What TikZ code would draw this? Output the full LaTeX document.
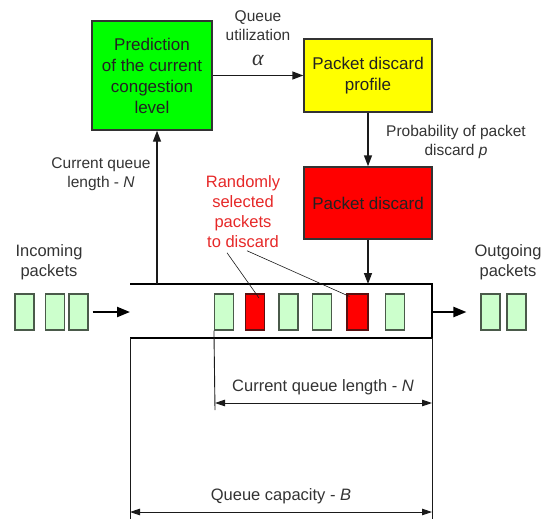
\documentclass[tikz,border=0pt]{standalone}
\usepackage{fontspec}
\setmainfont{Liberation Sans}
\newfontfamily\alphafont{Liberation Serif}
\usetikzlibrary{arrows.meta,calc}
\definecolor{boxgreen}{HTML}{00FF00}
\definecolor{boxyellow}{HTML}{FFFF00}
\definecolor{boxred}{HTML}{FF0000}
\definecolor{pktgreen}{HTML}{CCFFCC}
\definecolor{pktborder}{HTML}{4A5A4A}
\definecolor{redborder}{HTML}{5A1010}
\definecolor{boxborder}{HTML}{333333}
\definecolor{textdark}{HTML}{222222}
\definecolor{textgray}{HTML}{333333}
\definecolor{redtext}{HTML}{E62828}
\definecolor{linedark}{HTML}{1A1A1A}
\begin{document}
\begin{tikzpicture}[x=1pt,y=-1pt,
  box/.style={draw=boxborder, line width=1.4pt, align=center, inner sep=0pt, text=textdark, font=\fontsize{17}{21}\selectfont},
  lbl/.style={align=center, inner sep=0pt, text=textgray, font=\fontsize{16.5}{20}\selectfont},
  smalllbl/.style={align=center, inner sep=0pt, text=textgray, font=\fontsize{15.5}{19}\selectfont},
  pkt/.style={draw=pktborder, line width=1.1pt, fill=pktgreen, minimum width=19pt, minimum height=36pt, inner sep=0pt},
  redpkt/.style={pkt, fill=boxred, draw=redborder},
  flow/.style={line width=1.4pt, draw=linedark, -{Triangle[length=11pt,width=8pt]}},
  bigflow/.style={line width=2.2pt, draw=black, -{Triangle[length=13pt,width=10pt]}},
  dim/.style={line width=0.9pt, draw=linedark, {Triangle[length=10pt,width=6.5pt]}-{Triangle[length=10pt,width=6.5pt]}},
  leader/.style={line width=0.6pt, draw=linedark},
  queue/.style={line width=1.3pt, draw=black},
  ext/.style={line width=0.9pt, draw=linedark}]
\useasboundingbox (0,0) rectangle (548,519);

% main boxes
\node[box, fill=boxgreen, minimum width=120pt, minimum height=109pt] (pred) at (152,75.5) {Prediction\\of the current\\congestion\\level};
\node[box, fill=boxyellow, minimum width=128pt, minimum height=73pt] (prof) at (368,75.5) {Packet discard\\profile};
\node[box, fill=boxred, minimum width=128pt, minimum height=72pt] (disc) at (368,203) {Packet discard};

% labels
\node[smalllbl, anchor=north] (qutil) at (258,10.5) {Queue\\utilization\\[6pt]{\alphafont\itshape\fontsize{22}{22}\selectfont α}};
\node[smalllbl] (prob) at (456,142) {Probability of packet\\discard \textit{p}};
\node[smalllbl] (cql) at (101,174) {Current queue\\length - \textit{N}};
\node[lbl, text=redtext] (rnd) at (243,211.5) {Randomly\\selected\\packets\\to discard};
\node[lbl] (inc) at (49,262) {Incoming\\packets};
\node[lbl] (outg) at (508,262) {Outgoing\\packets};

% queue
\coordinate (qtl) at (130,284);
\coordinate (qtr) at (432,284);
\coordinate (qbl) at (130,338);
\coordinate (qbr) at (432,338);
\draw[queue] (qtl) -- (qtr) -- (qbr) -- (qbl);

% packets
\node[pkt] (in1) at (24.5,312) {};
\node[pkt] (in2) at (55,312) {};
\node[pkt] (in3) at (78.5,312) {};
\node[pkt] (qp1) at (224,312) {};
\node[redpkt] (rp1) at (255,312) {};
\node[pkt] (qp2) at (288.5,312) {};
\node[pkt] (qp3) at (322,312) {};
\node[redpkt, minimum width=21pt] (rp2) at (357.5,312) {};
\node[pkt] (qp4) at (395,312) {};
\node[pkt] (out1) at (490.5,312) {};
\node[pkt] (out2) at (516.5,312) {};

% connectors
\draw[flow] (pred.east) -- (prof.west);
\draw[flow] (prof.south) -- (disc.north);
\draw[flow] (disc.south) -- (disc.south |- qtl);
\coordinate (qtap) at (157,284);
\draw[flow] (qtap) -- (qtap |- pred.south);
\draw[bigflow] ($(in3.east)+(4,0)$) -- (qtl |- in3.center);
\draw[bigflow] (qtr |- out1.center) -- ($(out1.west)+(-14,0)$);

% leaders
\draw[leader] ($(rnd.south)+(-16,5)$) -- ($(rp1.center)+(4,-14)$);
\draw[leader] ($(rnd.south)+(4,3)$) -- ($(rp2.north west)+(3,3)$);

% dimensions
\coordinate (cqlL) at (215,410);
\coordinate (capL) at (130,519);
\coordinate (capR) at (432,519);
\draw[ext] (qp1.south west) -- (cqlL);
\draw[ext] (qbl) -- (capL);
\draw[ext] (qbr) -- (capR);
\coordinate (cqlA) at (215,403);
\coordinate (cqlB) at (432,403);
\draw[dim] (cqlA) -- (cqlB);
\node[lbl] (cqltxt) at (323,387) {Current queue length - \textit{N}};
\coordinate (capA) at (130,512);
\coordinate (capB) at (432,512);
\draw[dim] (capA) -- (capB);
\node[lbl] (captxt) at (281,496) {Queue capacity - \textit{B}};
\end{tikzpicture}
\end{document}
